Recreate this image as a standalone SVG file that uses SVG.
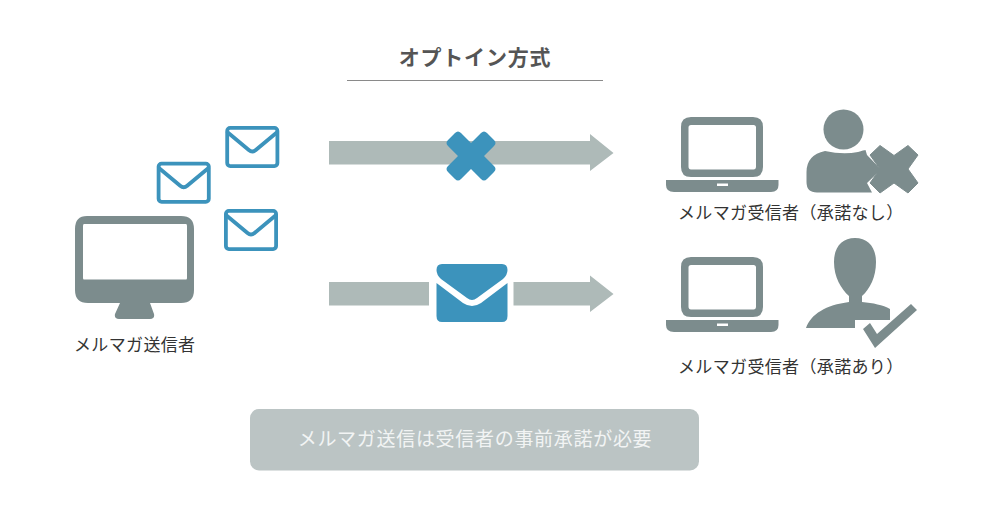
<svg xmlns="http://www.w3.org/2000/svg" width="1000" height="521" viewBox="0 0 1000 521">
<style>
text{font-family:"Noto Sans CJK JP","Noto Sans",sans-serif;fill:#333}
.lbl{font-size:17px;letter-spacing:.35px}
.g{fill:#7c8c8d}
.a{fill:#aebab8}
.b{fill:#3c93bc}
.env{fill:#fff;stroke:#3c93bc;stroke-width:3.8}
.fold{fill:none;stroke:#3c93bc;stroke-width:3.8;stroke-linejoin:round;stroke-linecap:round}
</style>
<defs>
<g id="mail">
<rect x="1.900" y="1.900" width="50.200" height="38.200" rx="3" class="env"/>
<path d="M2.500 6.500 L23.500 24 Q27 27 30.500 24 L51.500 6.500" class="fold"/>
</g>
<g id="laptop">
<path class="g" fill-rule="evenodd" d="M25 17H87Q97 17 97 27V67Q97 77 87 77H25Q15 77 15 67V27Q15 17 25 17ZM25 25Q22.500 25 22.500 27.500V66.500Q22.500 69.500 25 69.500H87.500Q90 69.500 90 66.500V27.500Q90 25 87.500 25Z"/>
<path class="g" fill-rule="evenodd" d="M0 80H112.500V85Q112.500 92 105 92H8Q0 92 0 85ZM51 83.500V86H62V83.500Z"/>
</g>
</defs>
<g id="title">
<text x="475" y="65" text-anchor="middle" font-size="21" font-weight="700" style="fill:#555;letter-spacing:.8px">オプトイン方式</text>
<rect x="347" y="80" width="256" height="1" fill="#8a8a8a"/>
</g>
<g id="connectors">
<path class="a" d="M329 141H590V134L613.500 153L590 171V164.500H329Z"/>
<path class="a" d="M329 282H429V305.500H329Z"/>
<path class="a" d="M513.500 282H590V275.500L613.500 294L590 312V305.500H513.500Z"/>
</g>
<g id="sender">
<path class="g" fill-rule="evenodd" d="M87 216H181Q194 216 194 229V290Q194 303 181 303H150L154 314Q155 319 150 319H119Q114 319 115 314L120 303H88Q75 303 75 290V229Q75 216 87 216ZM84 224Q83 224 83 226V278Q83 279.500 84 279.500H186Q187 279.500 187 278V226Q187 224 186 224Z"/>
<text x="74" y="350.500" class="lbl">メルマガ送信者</text>
</g>
<use id="mail-1" href="#mail" x="225.300" y="126"/>
<use id="mail-2" href="#mail" x="156.700" y="161.700"/>
<use id="mail-3" href="#mail" x="224" y="209"/>
<g id="blocked" transform="translate(-1,0)">
<path class="b" d="M456 133Q459 130 462 133L472 143L482 133Q485 130 488 133L495 140Q498 143 495 146L485 156L495 166Q498 169 495 172L488 179Q485 182 482 179L472 169L462 179Q459 182 456 179L449 172Q446 169 449 166L459 156L449 146Q446 143 449 140Z"/>
</g>
<g id="delivered">
<path class="b" d="M442 264H502Q507.500 264 507.500 270Q507.500 275 503 279L477 298Q472 302 467 298L441 279Q436.500 275 436.500 270Q436.500 264 442 264Z"/>
<path class="b" d="M436.500 283L463 303Q472 309 481 303L507.500 283V316Q507.500 322 502 322H442Q436.500 322 436.500 316Z"/>
</g>
<g id="receiver-no">
<use href="#laptop" x="666" y="100"/>
<circle class="g" cx="843.500" cy="129.500" r="20"/>
<path class="g" d="M825 151Q843 155 858 152Q864 150 865.500 150L867 155L881 169.500L867 183L872 192.500H817Q806.500 192.500 806.500 182V172Q806.500 155 825 151Z"/>
<path class="g" d="M880 145.500L894 155.500L908 145.500L918 155L908 169L918 183L908 193L894 183L880 193L870 183L880 169L870 155Z" stroke="#7c8c8d" stroke-width="1" stroke-linejoin="round"/>
<text x="678" y="219" class="lbl">メルマガ受信者（承諾なし）</text>
</g>
<g id="receiver-yes">
<use href="#laptop" x="666" y="240"/>
<path class="g" d="M855 238C868 238 876 247 876 262C876 277 870 289 862 296V302C873 303 883 305 890 309V320H855V328H806C811 314 826 305 849 302V296C841 289 834 277 834 262C834 247 842 238 855 238Z"/>
<path class="g" d="M863 329L870 323L877 334L911 304L917 310L875 348Z"/>
<text x="678" y="373" class="lbl">メルマガ受信者（承諾あり）</text>
</g>
<g id="note">
<rect x="250" y="409" width="449" height="61.500" rx="9" fill="#bbc4c4"/>
<text x="475" y="446" text-anchor="middle" font-size="19" style="fill:#f2f4f4;letter-spacing:.7px">メルマガ送信は受信者の事前承諾が必要</text>
</g>
</svg>
